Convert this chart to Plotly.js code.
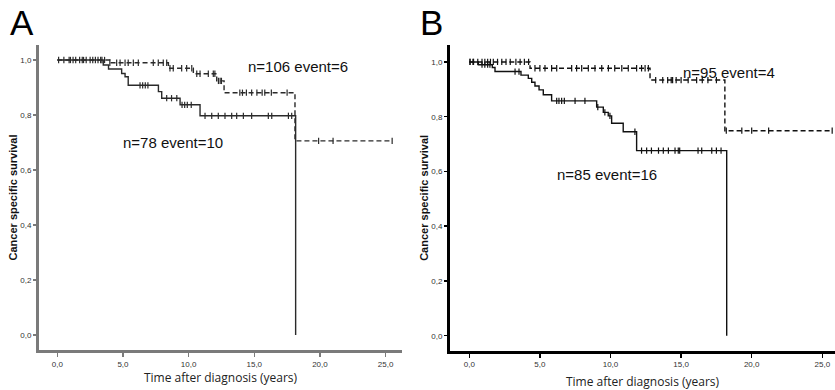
<!DOCTYPE html>
<html>
<head>
<meta charset="utf-8">
<script src="https://cdn.plot.ly/plotly-3.0.1.min.js"></script>
<style>html,body{margin:0;padding:0;background:#fff;}#chart{width:835px;height:390px;}</style>
</head>
<body>
<div id="chart"></div>
<script>
// ---------- Panel A data ----------
const aDashTime = [0, 4.0, 8.46, 10.36, 12.14, 12.7, 18.1, 25.5];
const aDashSurv = [1.0, 0.99, 0.97, 0.95, 0.924, 0.881, 0.706, 0.706];
const aDashCens = [0.1, 0.5, 0.9, 1.2, 1.4, 1.7, 1.9, 2.2, 2.5, 2.9, 3.3, 3.6, 4.0,
  4.52, 4.78, 5.16, 5.4, 5.79, 6.17, 7.31, 7.69, 8.07, 8.33,
  8.58, 8.83, 9.47, 9.85, 10.24,
  10.62, 10.87, 11.5, 11.88, 12.0,
  12.27, 12.4, 12.5,
  13.9, 14.1, 14.4, 14.8, 15.2, 15.6, 15.8, 16.3, 17.5,
  19.9, 21.0, 25.5];

const aSolidTime = [0, 3.5, 3.9, 4.9, 5.16, 5.4, 7.7, 7.95, 9.35, 10.87, 18.15];
const aSolidSurv = [1.0, 0.982, 0.967, 0.951, 0.939, 0.908, 0.885, 0.861, 0.837, 0.797, 0.0];
const aSolidCens = [1.0, 2.0, 2.7, 3.1, 3.4,
  6.3, 6.5, 6.7, 6.9,
  8.33, 8.7, 9.1,
  9.5, 9.7, 9.9, 10.2,
  11.25, 11.76, 12.26, 12.77, 13.28, 13.66, 14.17, 14.8, 16.07, 16.33, 17.6, 17.85];

// ---------- Panel B data ----------
const bDashTime = [0, 4.3, 12.8, 18.1, 25.7];
const bDashSurv = [1.0, 0.977, 0.934, 0.749, 0.749];
const bDashCens = [0.05, 0.3, 0.6, 0.9, 1.1, 1.3, 1.5, 1.7, 2.0, 2.3, 2.6, 2.9, 3.3, 3.6, 3.9, 4.2,
  4.65, 5.0, 5.36, 5.83, 6.19, 7.25, 7.6, 7.96, 8.43, 8.9, 9.38, 9.85, 10.3, 10.8, 11.26, 11.85, 12.2, 12.45, 12.68,
  13.2, 13.7, 14.05, 14.3, 14.4, 14.65, 15.0, 15.5, 16.1, 16.5, 16.9, 17.5,
  18.2, 19.3, 20.0, 21.2, 25.7];

const bSolidTime = [0, 0.64, 1.63, 1.82, 3.66, 4.18, 4.42, 4.65, 4.94, 5.24, 5.83, 9.02, 9.49, 9.84, 10.08, 10.9, 11.85, 18.23];
const bSolidSurv = [1.0, 0.99, 0.98, 0.965, 0.952, 0.94, 0.926, 0.912, 0.898, 0.88, 0.858, 0.835, 0.816, 0.803, 0.776, 0.745, 0.676, 0.0];
const bSolidCens = [0.05, 0.26, 0.9, 1.1, 1.3, 1.46, 3.24, 3.52,
  6.19, 6.35, 6.54, 6.73, 7.49, 8.19, 9.1, 9.6, 9.96, 11.73,
  12.2, 12.56, 12.9, 13.4, 13.74, 14.1, 14.57, 14.8, 14.9, 16.2, 16.46, 17.17, 17.5, 17.83];

// ---------- Axis tick labels ----------
const xTickVals = [0, 5, 10, 15, 20, 25];
const xTickText = ["0,0", "5,0", "10,0", "15,0", "20,0", "25,0"];
const yTickVals = [0, 0.2, 0.4, 0.6, 0.8, 1.0];
const yTickText = ["0,0", "0,2", "0,4", "0,6", "0,8", "1,0"];

// ---------- Annotation texts ----------
const labelA1 = {text: "n=106 event=6", t: 18.3, s: 0.975};
const labelA2 = {text: "n=78 event=10", t: 8.8, s: 0.70};
const labelB1 = {text: "n=95 event=4", t: 18.4, s: 0.96};
const labelB2 = {text: "n=85 event=16", t: 9.75, s: 0.59};

function stepAt(times, surv, t) {
  let v = surv[0];
  for (let i = 0; i < times.length; i++) { if (times[i] <= t) v = surv[i]; }
  return v;
}
function censorTrace(times, surv, cens, xa, ya, col) {
  return {
    x: cens, y: cens.map(t => stepAt(times, surv, t)), xaxis: xa, yaxis: ya,
    type: 'scatter', mode: 'markers', hoverinfo: 'skip', showlegend: false,
    marker: {symbol: 'line-ns', size: 4.5, color: col, line: {color: col, width: 1.2}}
  };
}
function stepTrace(times, surv, xa, ya, col, dash) {
  return {
    x: times, y: surv, xaxis: xa, yaxis: ya, type: 'scatter', mode: 'lines',
    line: {shape: 'hv', color: col, width: 1.4, dash: dash}, hoverinfo: 'skip', showlegend: false
  };
}

const colA = '#2a2a2a';
const colB = '#111111';
const traces = [
  stepTrace(aSolidTime, aSolidSurv, 'x', 'y', colA, 'solid'),
  stepTrace(aDashTime, aDashSurv, 'x', 'y', colA, '5px,3px'),
  censorTrace(aSolidTime, aSolidSurv, aSolidCens, 'x', 'y', colA),
  censorTrace(aDashTime, aDashSurv, aDashCens, 'x', 'y', colA),
  stepTrace(bSolidTime, bSolidSurv, 'x2', 'y2', colB, 'solid'),
  stepTrace(bDashTime, bDashSurv, 'x2', 'y2', colB, '5px,3px'),
  censorTrace(bSolidTime, bSolidSurv, bSolidCens, 'x2', 'y2', colB),
  censorTrace(bDashTime, bDashSurv, bDashCens, 'x2', 'y2', colB)
];

const W = 835, H = 390;
function px(x) { return x / W; }
function py(y) { return 1 - y / H; }

const tickFont = {family: 'Liberation Sans, Arial, sans-serif', size: 8, color: '#333'};
const xTitleFont = {family: 'Open Sans, Noto Sans, sans-serif', size: 12, color: '#222'};
const yTitleFont = {family: 'Liberation Sans, Arial, sans-serif', size: 11, color: '#111', weight: 'bold'};

function xAxis(domain, range, lineCol, anchor, standoff) {
  return {
    domain: domain, range: range, anchor: anchor, showgrid: false, zeroline: false,
    showline: true, linecolor: lineCol, linewidth: 3,
    ticks: 'outside', ticklen: 4, tickwidth: 1.5, tickcolor: lineCol,
    tickvals: xTickVals, ticktext: xTickText, tickfont: tickFont,
    title: {text: 'Time after diagnosis (years)', font: xTitleFont, standoff: standoff},
    automargin: false
  };
}
function yAxis(domain, range, lineCol, anchor) {
  return {
    domain: domain, range: range, anchor: anchor, showgrid: false, zeroline: false,
    showline: true, linecolor: lineCol, linewidth: 3,
    ticks: 'outside', ticklen: 3, tickwidth: 1.5, tickcolor: lineCol,
    tickvals: yTickVals, ticktext: yTickText, tickfont: tickFont,
    title: {text: '<b>Cancer specific survival</b>', font: yTitleFont, standoff: 1},
    automargin: false
  };
}

const annFont = {family: 'Liberation Sans, Arial, sans-serif', size: 15, color: '#111'};
function ann(l, xr, yr) {
  return {text: l.text, x: l.t, y: l.s, xref: xr, yref: yr, showarrow: false, font: annFont, xanchor: 'center', yanchor: 'middle'};
}

const layout = {
  width: W, height: H, margin: {l: 0, r: 0, t: 0, b: 0},
  paper_bgcolor: '#fff', plot_bgcolor: '#fff', showlegend: false,
  xaxis: xAxis([px(39), px(402)], [-1.394, 26.25], '#7a7a7a', 'y', 6),
  yaxis: yAxis([py(350), py(45)], [-0.0545, 1.0545], '#7a7a7a', 'x'),
  xaxis2: xAxis([px(450), 1], [-1.367, 25.9], '#000', 'y2', 10),
  yaxis2: yAxis([py(350.7), py(45)], [-0.0548, 1.062], '#000', 'x2'),
  annotations: [
    ann(labelA1, 'x', 'y'), ann(labelA2, 'x', 'y'),
    ann(labelB1, 'x2', 'y2'), ann(labelB2, 'x2', 'y2'),
    {text: 'A', xref: 'paper', yref: 'paper', x: px(8), y: py(22), xanchor: 'left', yanchor: 'middle', showarrow: false,
     font: {family: 'Liberation Sans, Arial, sans-serif', size: 35, color: '#000'}},
    {text: 'B', xref: 'paper', yref: 'paper', x: px(418), y: py(22), xanchor: 'left', yanchor: 'middle', showarrow: false,
     font: {family: 'Liberation Sans, Arial, sans-serif', size: 35, color: '#000'}}
  ]
};

Plotly.newPlot('chart', traces, layout, {staticPlot: true, displayModeBar: false});
</script>
</body>
</html>
